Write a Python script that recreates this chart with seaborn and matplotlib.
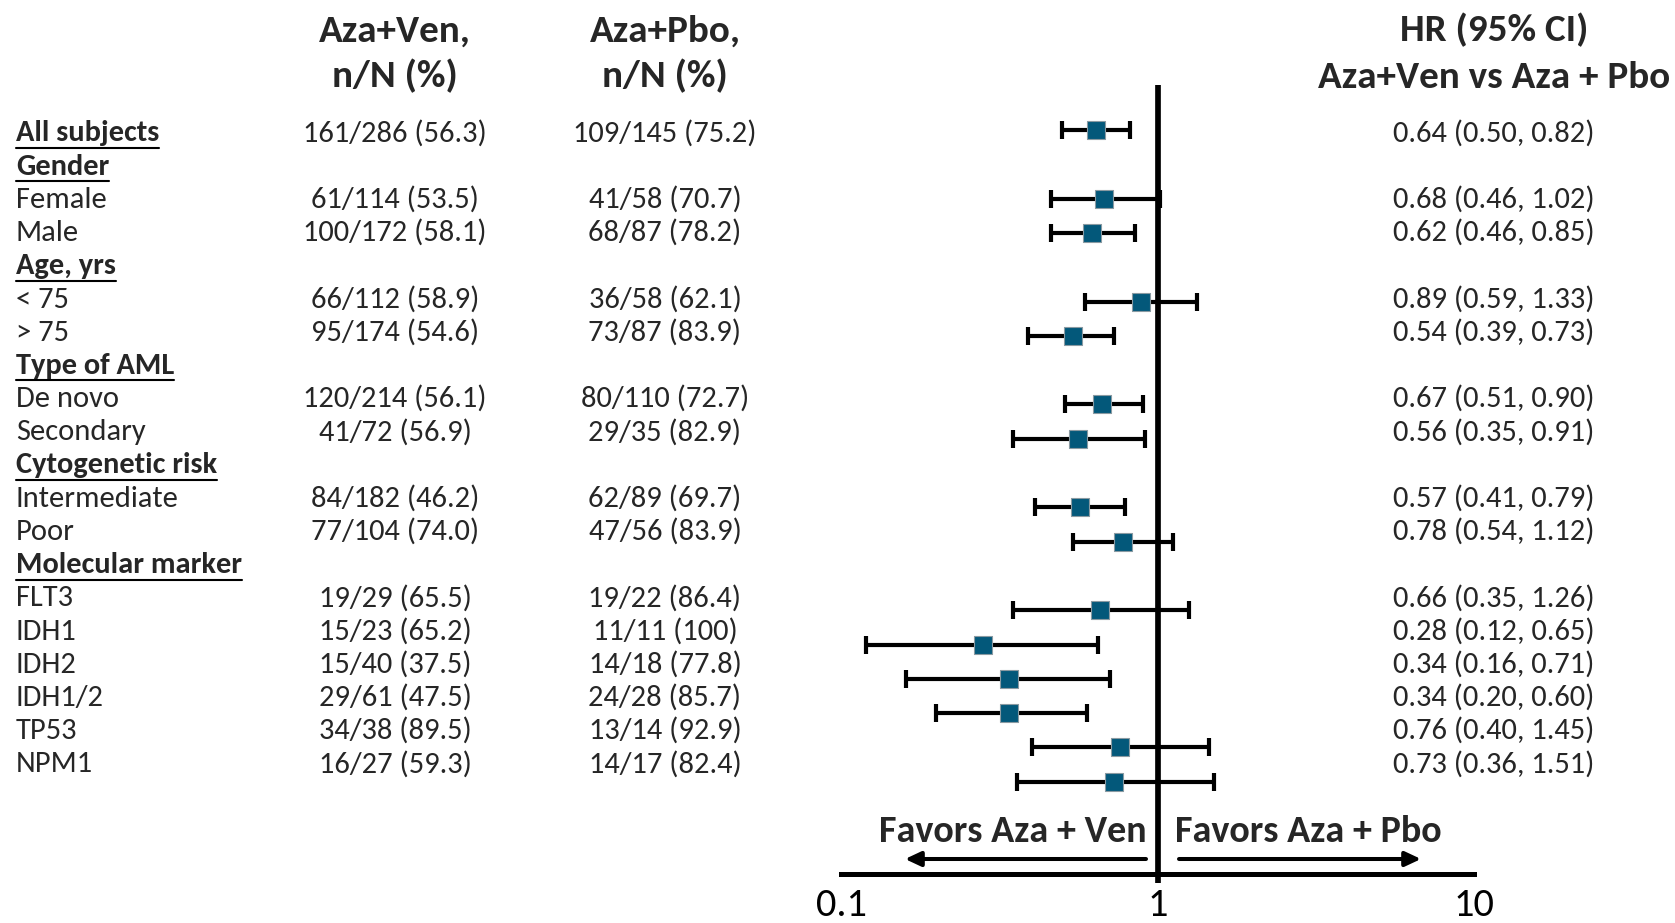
import numpy as np
import pandas as pd
import matplotlib
matplotlib.use("Agg")
import matplotlib.pyplot as plt
import seaborn as sns
from matplotlib import font_manager
from matplotlib.font_manager import FontProperties
from matplotlib.textpath import TextPath
from matplotlib.patches import FancyArrowPatch
from matplotlib.lines import Line2D
from matplotlib.ticker import NullLocator

# ---------------- data ----------------
labels = ["All subjects", "Gender", "Female", "Male", "Age, yrs", "< 75", "> 75",
          "Type of AML", "De novo", "Secondary", "Cytogenetic risk", "Intermediate",
          "Poor", "Molecular marker", "FLT3", "IDH1", "IDH2", "IDH1/2", "TP53", "NPM1"]
is_group = [True, True, False, False, True, False, False, True, False, False, True,
            False, False, True, False, False, False, False, False, False]
ven_counts = ["161/286 (56.3)", "", "61/114 (53.5)", "100/172 (58.1)", "", "66/112 (58.9)",
              "95/174 (54.6)", "", "120/214 (56.1)", "41/72 (56.9)", "", "84/182 (46.2)",
              "77/104 (74.0)", "", "19/29 (65.5)", "15/23 (65.2)", "15/40 (37.5)",
              "29/61 (47.5)", "34/38 (89.5)", "16/27 (59.3)"]
pbo_counts = ["109/145 (75.2)", "", "41/58 (70.7)", "68/87 (78.2)", "", "36/58 (62.1)",
              "73/87 (83.9)", "", "80/110 (72.7)", "29/35 (82.9)", "", "62/89 (69.7)",
              "47/56 (83.9)", "", "19/22 (86.4)", "11/11 (100)", "14/18 (77.8)",
              "24/28 (85.7)", "13/14 (92.9)", "14/17 (82.4)"]
hr = [0.64, np.nan, 0.68, 0.62, np.nan, 0.89, 0.54, np.nan, 0.67, 0.56, np.nan, 0.57,
      0.78, np.nan, 0.66, 0.28, 0.34, 0.34, 0.76, 0.73]
ci_low = [0.50, np.nan, 0.46, 0.46, np.nan, 0.59, 0.39, np.nan, 0.51, 0.35, np.nan, 0.41,
          0.54, np.nan, 0.35, 0.12, 0.16, 0.20, 0.40, 0.36]
ci_high = [0.82, np.nan, 1.02, 0.85, np.nan, 1.33, 0.73, np.nan, 0.90, 0.91, np.nan, 0.79,
           1.12, np.nan, 1.26, 0.65, 0.71, 0.60, 1.45, 1.51]
x_ticks = [0.1, 1, 10]
x_tick_labels = ["0.1", "1", "10"]
col_headers = ["Aza+Ven,\nn/N (%)", "Aza+Pbo,\nn/N (%)"]
hr_header = ["HR (95% CI)", "Aza+Ven vs Aza + Pbo"]
favors = ["Favors Aza + Ven", "Favors Aza + Pbo"]

# ---------------- style ----------------
sns.set_theme(style="white")
avail = {f.name for f in font_manager.fontManager.ttflist}
FONT = "DejaVu Sans"
for cand in ["Carlito", "Liberation Sans Narrow", "Lato", "Open Sans", "Noto Sans"]:
    if cand in avail:
        FONT = cand
        break
plt.rcParams["font.family"] = [FONT, "DejaVu Sans"]

MARKER_COLOR = "#03587A"

W, H = 1675, 923
fig = plt.figure(figsize=(W / 100, H / 100), dpi=100)
renderer = fig.canvas.get_renderer()


def fx(x):
    return x / W


def fy(y):
    return 1 - y / H


def fit_size(text, target_px, weight="normal", base=20.0):
    t = fig.text(0, 0, text, fontsize=base, fontweight=weight)
    w = t.get_window_extent(renderer).width
    t.remove()
    return base * target_px / w


def fit_height(text, target_px):
    tp = TextPath((0, 0), text, size=100, prop=FontProperties(family=FONT))
    h = tp.get_extents().height  # glyph height per 100 px font size
    return target_px / (h / 100.0) * 0.72


body_fs = fit_size("161/286 (56.3)", 184)
group_fs = fit_size("Molecular marker", 226, "bold")
head_fs = fit_size("Aza+Ven vs Aza + Pbo", 352, "bold")
fav_fs = fit_size("Favors Aza + Ven", 268, "bold")
tick_fs = fit_height("10", 26.5)

# ---------------- forest axes ----------------
ROW0_PX, ROW_STEP_PX = 130.0, 34.3       # marker rows (pixels from top)
AX_TOP_PX, AX_BOT_PX = 85.0, 874.0
AX_L_PX, AX_R_PX = 841.0, 1474.0
ax = fig.add_axes([fx(AX_L_PX), fy(AX_BOT_PX), (AX_R_PX - AX_L_PX) / W,
                   (AX_BOT_PX - AX_TOP_PX) / H])
y_top = (AX_TOP_PX - ROW0_PX) / ROW_STEP_PX
y_bot = (AX_BOT_PX - ROW0_PX) / ROW_STEP_PX

df = pd.DataFrame({"label": labels, "hr": hr, "lo": ci_low, "hi": ci_high})
df["row"] = np.arange(len(df))
dd = df.dropna(subset=["hr"])

ax.errorbar(dd["hr"], dd["row"], xerr=[dd["hr"] - dd["lo"], dd["hi"] - dd["hr"]],
            fmt="none", ecolor="black", elinewidth=3.0, capsize=6.2, capthick=3.0, zorder=2)
sns.scatterplot(data=dd, x="hr", y="row", marker="s", s=150, color=MARKER_COLOR,
                edgecolor="#8a9aa2", linewidth=0.8, ax=ax, zorder=3, legend=False)

ax.set_xscale("log")
ax.set_xlim(0.1, 10)
ax.set_ylim(y_bot, y_top)
ax.xaxis.set_minor_locator(NullLocator())
ax.set_xticks(x_ticks)
ax.set_xticklabels(x_tick_labels)
ax.set_yticks([])
ax.set_xlabel("")
ax.set_ylabel("")
for s in ["top", "right", "left"]:
    ax.spines[s].set_visible(False)
ax.spines["bottom"].set_linewidth(3.6)
ax.spines["bottom"].set_color("black")
ax.tick_params(axis="x", length=7, width=3.6, direction="out", colors="black",
               labelsize=tick_fs, pad=2.5)
ax.patch.set_alpha(0)

# reference line at HR = 1
ax.plot([1, 1], [y_top, (883 - ROW0_PX) / ROW_STEP_PX], color="black", lw=4.1,
        solid_capstyle="butt", clip_on=False, zorder=1)

# ---------------- table text ----------------
BASE0_PX, TXT_STEP_PX = 141.5, 33.2
LABEL_X, VEN_X, PBO_X, HR_X = 16, 395, 665, 1494
for i, lab in enumerate(labels):
    yb = fy(BASE0_PX + TXT_STEP_PX * i)
    if is_group[i]:
        t = fig.text(fx(LABEL_X), yb, lab, fontsize=group_fs, fontweight="bold",
                     ha="left", va="baseline")
        bb = t.get_window_extent(renderer)
        uy = fy(BASE0_PX + TXT_STEP_PX * i + 6.5)
        fig.add_artist(Line2D([bb.x0 / W, bb.x1 / W], [uy, uy], color="black", lw=1.5,
                              transform=fig.transFigure))
    else:
        fig.text(fx(LABEL_X), yb, lab, fontsize=body_fs, ha="left", va="baseline")
    if ven_counts[i]:
        fig.text(fx(VEN_X), yb, ven_counts[i], fontsize=body_fs, ha="center", va="baseline")
    if pbo_counts[i]:
        fig.text(fx(PBO_X), yb, pbo_counts[i], fontsize=body_fs, ha="center", va="baseline")
    if not np.isnan(hr[i]):
        fig.text(fx(HR_X), yb, f"{hr[i]:.2f} ({ci_low[i]:.2f}, {ci_high[i]:.2f})",
                 fontsize=body_fs, ha="center", va="baseline")

# ---------------- headers ----------------
for cx, h in zip([VEN_X, PBO_X], col_headers):
    l1, l2 = h.split("\n")
    fig.text(fx(cx), fy(41.5), l1, fontsize=head_fs, fontweight="bold", ha="center", va="baseline")
    fig.text(fx(cx), fy(87.5), l2, fontsize=head_fs, fontweight="bold", ha="center", va="baseline")
fig.text(fx(HR_X), fy(41.5), hr_header[0], fontsize=head_fs, fontweight="bold",
         ha="center", va="baseline")
fig.text(fx(HR_X), fy(87.5), hr_header[1], fontsize=head_fs, fontweight="bold",
         ha="center", va="baseline")

# ---------------- favors annotations ----------------
fig.text(fx(1147), fy(842), favors[0], fontsize=fav_fs, fontweight="bold",
         ha="right", va="baseline")
fig.text(fx(1175), fy(842), favors[1], fontsize=fav_fs, fontweight="bold",
         ha="left", va="baseline")
arrow_style = "-|>,head_length=0.47,head_width=0.22"
for xa, xb in [(1146, 905), (1179, 1421)]:
    fig.add_artist(FancyArrowPatch((fx(xa), fy(859)), (fx(xb), fy(859)),
                                   transform=fig.transFigure, arrowstyle=arrow_style,
                                   mutation_scale=20, lw=2.9, color="black",
                                   shrinkA=0, shrinkB=0))

fig.savefig("out.png", dpi=100)
